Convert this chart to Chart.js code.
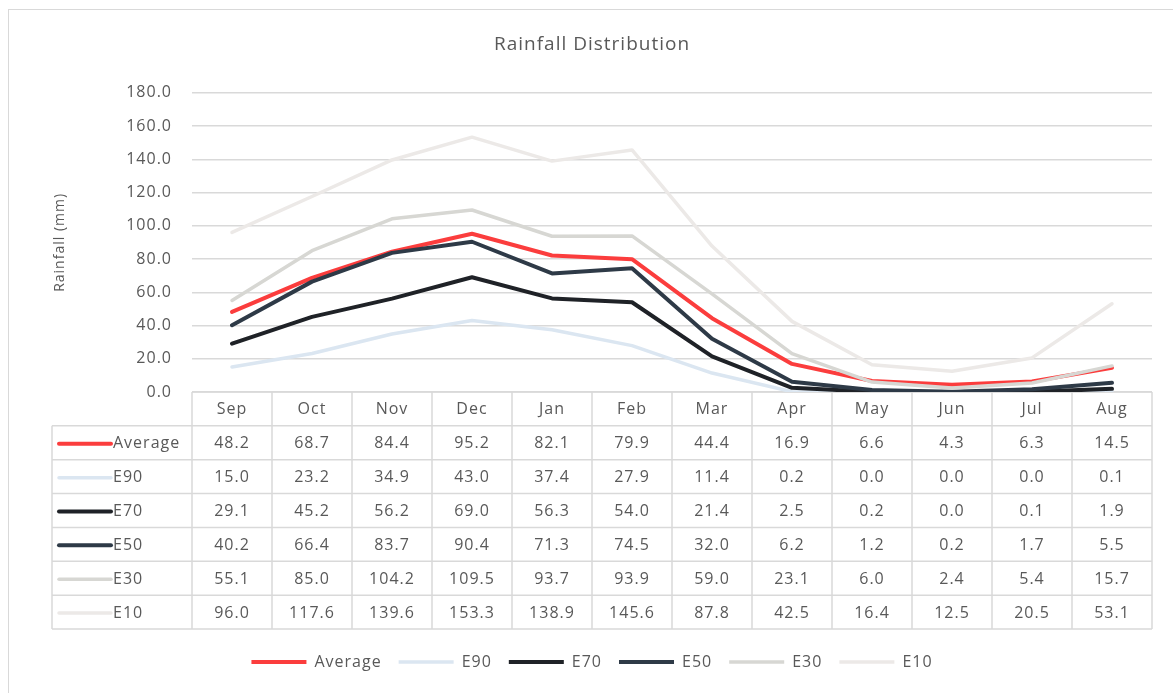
<!DOCTYPE html>
<html>
<head>
<meta charset="utf-8">
<title>Rainfall Distribution</title>
<script src="https://cdn.jsdelivr.net/npm/chart.js@4/dist/chart.umd.min.js"></script>
<style>
  html, body { margin: 0; padding: 0; background: #ffffff; overflow: hidden; }
  #wrap { position: relative; width: 1173px; height: 693px; }
  #frame { position: absolute; left: 8px; top: 9px; width: 1200px; height: 720px;
           border: 1.5px solid #d9d9d9; box-sizing: border-box; }
  canvas { position: absolute; left: 0; top: 0; }
</style>
</head>
<body>
<div id="wrap">
  <div id="frame"></div>
  <canvas id="chart" width="1173" height="693"></canvas>
</div>
<script>
// Monthly rainfall (mm) by exceedance level
const months  = ['Sep', 'Oct', 'Nov', 'Dec', 'Jan', 'Feb', 'Mar', 'Apr', 'May', 'Jun', 'Jul', 'Aug'];
const average = [48.2, 68.7, 84.4, 95.2, 82.1, 79.9, 44.4, 16.9, 6.6, 4.3, 6.3, 14.5];
const e90     = [15.0, 23.2, 34.9, 43.0, 37.4, 27.9, 11.4, 0.2, 0.0, 0.0, 0.0, 0.1];
const e70     = [29.1, 45.2, 56.2, 69.0, 56.3, 54.0, 21.4, 2.5, 0.2, 0.0, 0.1, 1.9];
const e50     = [40.2, 66.4, 83.7, 90.4, 71.3, 74.5, 32.0, 6.2, 1.2, 0.2, 1.7, 5.5];
const e30     = [55.1, 85.0, 104.2, 109.5, 93.7, 93.9, 59.0, 23.1, 6.0, 2.4, 5.4, 15.7];
const e10     = [96.0, 117.6, 139.6, 153.3, 138.9, 145.6, 87.8, 42.5, 16.4, 12.5, 20.5, 53.1];
const seriesNames = ['Average', 'E90', 'E70', 'E50', 'E30', 'E10'];
const yTicks = [0, 20, 40, 60, 80, 100, 120, 140, 160, 180];

const seriesValues = [average, e90, e70, e50, e30, e10];
const seriesColors = ['#fb3d3d', '#dbe6f1', '#1f2227', '#2e3a47', '#d7d7d3', '#ece9e7'];
const seriesWidths = [4, 3.5, 4, 4, 3.5, 3.5];

const TEXT = '#595959';
const GRID = '#d9d9d9';
const FONT = '"Open Sans", Lato, sans-serif';
const SPACING = '1px';

// Slightly open letter spacing for all canvas text
const textSpacing = {
  id: 'textSpacing',
  beforeUpdate(chart) { chart.ctx.letterSpacing = SPACING; },
  beforeLayout(chart) { chart.ctx.letterSpacing = SPACING; },
  beforeDraw(chart) { chart.ctx.letterSpacing = SPACING; }
};

// Data table under the plot, aligned to the category scale
const dataTable = {
  id: 'dataTable',
  beforeDatasetsDraw(chart) {
    const { ctx, chartArea, scales: { x } } = chart;
    const n = months.length;
    const colW = x.getPixelForValue(1) - x.getPixelForValue(0);
    const left0 = x.getPixelForValue(0) - colW / 2;
    const right = x.getPixelForValue(n - 1) + colW / 2;
    const top = chartArea.bottom;
    const rowH = 33.86;
    const rows = seriesNames.length;
    const bottom = top + rowH * (rows + 1);
    const labelLeft = 52;

    ctx.save();
    ctx.letterSpacing = SPACING;
    ctx.strokeStyle = GRID;
    ctx.lineWidth = 1.5;
    ctx.beginPath();
    ctx.moveTo(left0, top); ctx.lineTo(right, top);
    for (let r = 1; r <= rows + 1; r++) {
      const y = top + rowH * r;
      ctx.moveTo(labelLeft, y); ctx.lineTo(right, y);
    }
    ctx.moveTo(labelLeft, top + rowH); ctx.lineTo(labelLeft, bottom);
    for (let c = 0; c <= n; c++) {
      const xx = left0 + colW * c;
      ctx.moveTo(xx, top); ctx.lineTo(xx, bottom);
    }
    ctx.stroke();

    ctx.fillStyle = TEXT;
    ctx.font = '16px ' + FONT;
    ctx.textAlign = 'center';
    ctx.textBaseline = 'middle';
    months.forEach((m, i) => ctx.fillText(m, x.getPixelForValue(i), top + rowH / 2 + 1));

    seriesNames.forEach((name, r) => {
      const cy = top + rowH * (r + 1) + rowH / 2 + 1;
      ctx.strokeStyle = seriesColors[r];
      ctx.lineWidth = seriesWidths[r];
      ctx.lineCap = 'round';
      ctx.beginPath();
      ctx.moveTo(59, cy); ctx.lineTo(111, cy);
      ctx.stroke();
      ctx.textAlign = 'left';
      ctx.fillStyle = TEXT;
      ctx.fillText(name, 113, cy);
      ctx.textAlign = 'center';
      seriesValues[r].forEach((v, i) => ctx.fillText(v.toFixed(1), x.getPixelForValue(i), cy));
    });
    ctx.restore();
  }
};

const datasets = seriesNames.map((name, i) => ({
  label: name,
  data: seriesValues[i],
  borderColor: seriesColors[i],
  backgroundColor: seriesColors[i],
  borderWidth: seriesWidths[i],
  pointRadius: 0,
  pointHoverRadius: 0,
  tension: 0,
  fill: false,
  borderJoinStyle: 'round',
  borderCapStyle: 'round',
  order: seriesNames.length - i
}));

new Chart(document.getElementById('chart'), {
  type: 'line',
  data: { labels: months, datasets },
  options: {
    responsive: false,
    animation: false,
    events: [],
    layout: { padding: { top: 9, left: 32, right: 21, bottom: 13 } },
    plugins: {
      title: {
        display: true,
        text: 'Rainfall Distribution',
        color: TEXT,
        font: { family: FONT, size: 19, weight: 'normal' },
        padding: { top: 24, bottom: 37 }
      },
      legend: {
        position: 'bottom',
        labels: {
          color: TEXT,
          font: { family: FONT, size: 16 },
          usePointStyle: true,
          pointStyle: 'line',
          pointStyleWidth: 55,
          padding: 17,
          sort: (a, b) => a.datasetIndex - b.datasetIndex
        }
      },
      tooltip: { enabled: false }
    },
    scales: {
      x: {
        offset: true,
        grid: { display: false },
        border: { display: false },
        ticks: { display: false },
        afterFit(scale) { scale.height = 245; }
      },
      y: {
        min: 0,
        max: 180,
        afterBuildTicks(scale) { scale.ticks = yTicks.map(v => ({ value: v })); },
        afterFit(scale) { scale.width = 160; },
        border: { display: false },
        grid: { color: GRID, lineWidth: 1.5, drawTicks: false },
        ticks: {
          color: TEXT,
          font: { family: FONT, size: 16 },
          padding: 20,
          callback: v => Number(v).toFixed(1)
        },
        title: {
          display: true,
          text: 'Rainfall (mm)',
          color: TEXT,
          font: { family: FONT, size: 14 },
          padding: { top: 20, bottom: 0 }
        }
      }
    }
  },
  plugins: [textSpacing, dataTable]
});
</script>
</body>
</html>
